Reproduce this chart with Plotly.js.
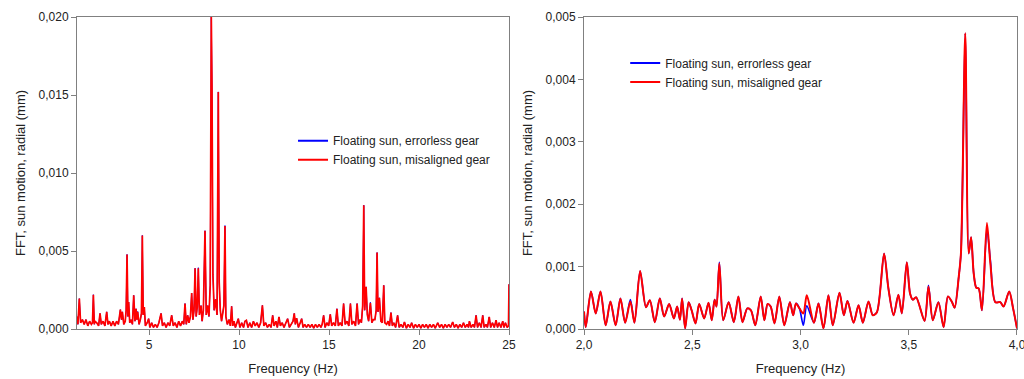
<!DOCTYPE html>
<html><head><meta charset="utf-8">
<script src="https://cdn.plot.ly/plotly-3.0.1.min.js"></script>
<style>html,body{margin:0;padding:0;background:#fff}#chart{width:1024px;height:379px}</style>
</head><body><div id="chart"></div>
<script>
const seriesNames = ['Floating sun, errorless gear', 'Floating sun, misaligned gear'];

const leftFreq = [
1.0,1.05,1.13,1.2,1.3,1.4,1.5,1.6,1.7,1.8,1.86,1.91,1.96,
2.0,2.1,2.2,2.28,2.35,2.45,2.55,2.65,2.72,2.8,2.9,
3.0,3.1,3.2,3.3,3.41,3.47,3.52,3.6,3.68,3.73,3.78,3.83,3.87,3.93,
4.0,4.08,4.15,4.22,4.28,4.33,4.37,4.45,4.52,4.58,4.63,4.68,4.74,4.8,4.9,4.98,
5.05,5.15,5.25,5.35,5.45,5.55,5.67,5.75,5.85,5.95,
6.05,6.15,6.26,6.35,6.45,6.55,6.65,6.75,6.85,6.93,
7.0,7.07,7.15,7.22,7.3,7.37,7.44,7.5,7.56,7.62,7.68,7.74,7.8,7.89,7.95,
8.02,8.11,8.18,8.26,8.33,8.4,8.46,8.5,8.55,8.62,8.7,8.78,8.85,8.9,8.96,
9.03,9.1,9.16,9.22,9.27,9.35,9.45,9.52,9.59,9.65,9.72,9.8,9.88,9.96,
10.05,10.15,10.25,10.33,10.41,10.5,10.6,10.7,10.8,10.9,
11.0,11.1,11.2,11.3,11.38,11.48,11.58,11.68,11.78,11.87,11.95,
12.05,12.13,12.22,12.3,12.4,12.5,12.6,12.7,12.8,12.9,
13.0,13.07,13.13,13.2,13.3,13.4,13.48,13.56,13.65,13.75,13.85,13.95,
14.05,14.15,14.25,14.35,14.45,14.55,14.62,14.7,14.78,14.88,14.98,
15.07,15.15,15.25,15.35,15.44,15.52,15.62,15.72,15.81,15.9,
16.0,16.1,16.19,16.27,16.37,16.47,16.56,16.64,16.72,16.8,16.87,16.93,16.98,
17.06,17.13,17.2,17.3,17.38,17.46,17.55,17.62,17.67,17.72,17.8,17.88,17.96,
18.04,18.1,18.2,18.28,18.36,18.44,18.52,18.6,18.7,18.81,18.9,
19.0,19.1,19.19,19.3,19.4,19.5,19.59,19.7,19.8,19.9,
20.0,20.1,20.2,20.3,20.4,20.5,20.6,20.7,20.8,20.9,
21.04,21.15,21.25,21.35,21.45,21.55,21.65,21.75,21.87,21.97,
22.07,22.17,22.27,22.37,22.47,22.57,22.67,22.75,22.8,22.9,
23.0,23.08,23.17,23.25,23.35,23.45,23.54,23.62,23.72,23.8,23.9,23.98,
24.08,24.18,24.28,24.36,24.45,24.55,24.65,24.72,24.8,24.9,24.97,25.0
];

const leftMisaligned = [
0.0008,0.0003,0.00195,0.0004,0.0006,0.0003,0.0006,0.0002,0.0005,0.0003,0.0004,0.0022,0.0003,
0.0005,0.0004,0.0002,0.001,0.0003,0.0005,0.0002,0.0011,0.0003,0.0005,0.0002,
0.0005,0.0002,0.0005,0.0003,0.00124,0.0006,0.0011,0.0003,0.0005,0.0012,0.00478,0.0008,0.00173,0.0004,
0.0006,0.0003,0.00216,0.0005,0.0013,0.0006,0.0011,0.0003,0.0006,0.001,0.006,0.0009,0.0014,0.0002,0.0004,0.00066,
0.0001,0.0004,0.0001,0.0003,0.0001,0.0004,0.001,0.0002,0.0004,0.0001,
0.0004,0.0002,0.00088,0.0002,0.0004,0.0001,0.0005,0.0002,0.0005,0.0003,
0.00163,0.0003,0.00088,0.0004,0.0008,0.0023,0.0006,0.0012,0.0039,0.0008,0.0014,0.0039,0.0009,0.0015,0.0005,
0.0012,0.0063,0.0009,0.0015,0.0008,0.0028,0.0201,0.0155,0.0035,0.0012,0.0019,0.0009,0.0152,0.003,0.0012,
0.0005,0.001,0.0015,0.0066,0.0008,0.0003,0.0006,0.0002,0.00146,0.0002,0.0005,0.0001,0.0004,0.00066,
0.0001,0.0004,0.0001,0.0005,0.00056,0.0001,0.0004,0.0001,0.0005,0.0002,
0.0004,0.0001,0.0004,0.00152,0.0002,0.0004,0.0001,0.0003,0.0001,0.00088,0.0002,
0.0005,0.0001,0.00077,0.0002,0.0004,0.0001,0.0004,0.00066,0.0001,0.0003,
0.0005,0.001,0.0003,0.0007,0.0001,0.0004,0.00066,0.0001,0.0003,0.0001,0.0003,0.0001,
0.0003,0.00005,0.0003,0.0001,0.0003,0.0001,0.0003,0.00088,0.0001,0.0004,0.0002,
0.00094,0.0002,0.0004,0.0002,0.0013,0.0002,0.0004,0.0002,0.00163,0.0003,
0.0005,0.0002,0.00163,0.0003,0.0005,0.0002,0.00163,0.0003,0.0006,0.0004,0.0015,0.00794,0.0012,
0.0027,0.0009,0.0005,0.00167,0.0004,0.0006,0.0006,0.0012,0.0049,0.0011,0.002,0.0005,0.0004,
0.0028,0.0004,0.0003,0.0005,0.0002,0.00105,0.0002,0.0004,0.0001,0.00088,0.0001,
0.0003,0.0001,0.00045,0.00005,0.0003,0.0001,0.0004,0.00005,0.0003,0.0001,
0.0003,0.00005,0.0003,0.0001,0.0003,0.00005,0.0003,0.0001,0.0003,0.00005,
0.0004,0.0001,0.0003,0.00005,0.0003,0.0001,0.0003,0.0001,0.00045,0.0001,
0.0003,0.00005,0.0003,0.0001,0.0004,0.0001,0.0003,0.0001,0.0005,0.0001,
0.0003,0.0001,0.00088,0.0001,0.0004,0.0001,0.00088,0.0001,0.0003,0.0001,0.00077,0.0001,
0.0004,0.0001,0.00056,0.0001,0.0004,0.0001,0.0005,0.0001,0.0004,0.0001,0.0002,0.00287
];

const leftErrorless = [
0.0008,0.0003,0.00195,0.0004,0.0006,0.0003,0.0006,0.0002,0.0005,0.0003,0.0004,0.0022,0.0003,
0.0005,0.0004,0.0002,0.001,0.0003,0.0005,0.0002,0.0011,0.0003,0.0005,0.0002,
0.0005,0.0002,0.0005,0.0003,0.00124,0.0006,0.0011,0.0003,0.0005,0.0012,0.00478,0.0008,0.00173,0.0004,
0.0006,0.0003,0.00216,0.0005,0.0013,0.0006,0.00112,0.0003,0.0006,0.001,0.006,0.0009,0.0014,0.0002,0.0004,0.00066,
0.0001,0.0004,0.0001,0.0003,0.0001,0.0004,0.001,0.0002,0.0004,0.0001,
0.0004,0.0002,0.00088,0.0002,0.0004,0.0001,0.0005,0.0002,0.0005,0.0003,
0.00163,0.0003,0.00088,0.0004,0.0008,0.0023,0.0006,0.0012,0.0039,0.0008,0.0014,0.00393,0.0009,0.0015,0.0005,
0.0012,0.0063,0.0009,0.0015,0.0008,0.0028,0.0201,0.0155,0.0035,0.0012,0.0019,0.0009,0.0152,0.003,0.0012,
0.0005,0.001,0.0015,0.00663,0.0008,0.0003,0.0006,0.0002,0.00146,0.0002,0.0005,0.0001,0.0004,0.00066,
0.0001,0.0004,0.0001,0.0005,0.00056,0.0001,0.0004,0.0001,0.0005,0.0002,
0.0004,0.0001,0.0004,0.00152,0.0002,0.0004,0.0001,0.0003,0.0001,0.00088,0.0002,
0.0005,0.0001,0.00077,0.0002,0.0004,0.0001,0.0004,0.00066,0.0001,0.0003,
0.0005,0.001,0.0003,0.0007,0.0001,0.0004,0.00066,0.0001,0.0003,0.0001,0.0003,0.0001,
0.0003,0.00005,0.0003,0.0001,0.0003,0.0001,0.0003,0.00088,0.0001,0.0004,0.0002,
0.00094,0.0002,0.0004,0.0002,0.0013,0.0002,0.0004,0.0002,0.00163,0.0003,
0.0005,0.0002,0.00163,0.0003,0.0005,0.0002,0.00163,0.0003,0.0006,0.0004,0.0015,0.00794,0.0012,
0.0027,0.0009,0.0005,0.00171,0.0004,0.0006,0.0006,0.0012,0.0049,0.0011,0.002,0.0005,0.0004,
0.0028,0.0004,0.0003,0.0005,0.0002,0.00105,0.0002,0.0004,0.0001,0.00088,0.0001,
0.0003,0.0001,0.00045,0.00005,0.0003,0.0001,0.0004,0.00005,0.0003,0.0001,
0.0003,0.00005,0.0003,0.0001,0.0003,0.00005,0.0003,0.0001,0.0003,0.00005,
0.0004,0.0001,0.0003,0.00005,0.0003,0.0001,0.0003,0.0001,0.00045,0.0001,
0.0003,0.00005,0.0003,0.0001,0.0004,0.0001,0.0003,0.0001,0.0005,0.0001,
0.0003,0.0001,0.00088,0.0001,0.0004,0.0001,0.00088,0.0001,0.0003,0.0001,0.00077,0.0001,
0.0004,0.0001,0.00056,0.0001,0.0004,0.0001,0.0005,0.0001,0.0004,0.0001,0.0002,0.00287
];

const rightFreq = [
2.0,2.008,2.032,2.054,2.076,2.1,2.122,2.146,2.168,2.19,2.214,2.233,2.259,2.286,2.304,2.327,2.35,2.37,2.393,2.415,
2.43,2.443,2.453,2.467,2.483,2.497,2.515,2.532,2.555,2.575,2.59,2.603,2.612,2.625,2.643,2.668,2.692,2.713,2.732,2.754,
2.771,2.791,2.816,2.833,2.848,2.862,2.88,2.902,2.925,2.951,2.966,2.979,2.995,3.013,3.029,3.062,3.083,3.106,3.129,3.149,
3.18,3.2,3.217,3.245,3.268,3.288,3.314,3.334,3.353,3.386,3.406,3.43,3.452,3.468,3.491,3.506,3.519,3.534,3.573,3.591,
3.611,3.637,3.661,3.681,3.7,3.712,3.731,3.741,3.761,3.777,3.788,3.8,3.812,3.823,3.838,3.861,3.877,3.9,3.923,3.938,
3.964,3.982,4.0
];

const rightMisaligned = [
0.00028,0.00003,0.0006,0.00025,0.0006,0.00006,0.00044,0.00006,0.00049,0.0001,0.00044,0.0001,0.00093,0.00035,0.00046,0.00011,0.00049,0.0002,0.0004,0.00017,
0.00036,0.00015,0.00049,0.00001,0.00043,0.0003,0.00009,0.0004,0.00017,0.00042,0.00014,0.00047,0.00036,0.00105,0.00014,0.00043,0.00011,0.00052,0.00011,0.00033,
0.0003,0.00006,0.00052,0.00014,0.0004,0.00036,0.00009,0.00052,0.00006,0.00043,0.00022,0.00041,0.00033,0.00025,0.00054,0.0001,0.00041,0.00001,0.00054,0.00006,
0.00058,0.00022,0.00045,0.0001,0.00038,0.0001,0.00044,0.00022,0.00027,0.00121,0.00065,0.00022,0.00055,0.00025,0.00107,0.00057,0.00047,0.00051,0.00013,0.00068,
0.00014,0.00043,0.00003,0.00052,0.00043,0.00034,0.00084,0.00121,0.00474,0.00121,0.00147,0.00089,0.00066,0.00065,0.0003,0.0017,0.00105,0.00043,0.00043,0.00036,
0.0006,0.00033,0.00001
];

const rightErrorless = [
0.00028,0.00003,0.0006,0.00025,0.0006,0.00006,0.00044,0.00006,0.00049,0.0001,0.00047,0.0001,0.00093,0.00035,0.00046,0.00011,0.00049,0.0002,0.0004,0.00017,
0.00036,0.00015,0.00049,0.00001,0.00043,0.0003,0.00009,0.0004,0.00017,0.00042,0.00014,0.00047,0.00036,0.00107,0.00014,0.00043,0.00011,0.00052,0.00011,0.00033,
0.0003,0.00006,0.00052,0.00014,0.0004,0.00036,0.00009,0.00052,0.00006,0.00043,0.00022,0.00041,0.00033,0.00006,0.00037,0.0001,0.00041,0.00001,0.00054,0.00006,
0.00058,0.00022,0.00045,0.0001,0.00038,0.0001,0.00044,0.00022,0.00027,0.00121,0.00065,0.00022,0.00055,0.00025,0.00107,0.00057,0.00047,0.00051,0.00013,0.0007,
0.00014,0.00043,0.00003,0.00052,0.00043,0.00034,0.00084,0.00121,0.00474,0.00121,0.00147,0.00089,0.00066,0.00065,0.0003,0.0016,0.0011,0.00043,0.00043,0.00036,
0.0006,0.00033,0.00001
];

const FONT = 'Liberation Sans, Arial, sans-serif';
const BLUE = '#0000ff', RED = '#ff0000';

const traces = [
  {x: leftFreq, y: leftErrorless, name: seriesNames[0], type: 'scatter', mode: 'lines', xaxis: 'x', yaxis: 'y', line: {color: BLUE, width: 1.0}, showlegend: false},
  {x: leftFreq, y: leftMisaligned, name: seriesNames[1], type: 'scatter', mode: 'lines', xaxis: 'x', yaxis: 'y', line: {color: RED, width: 1.7}, showlegend: false},
  {x: rightFreq, y: rightErrorless, name: seriesNames[0], type: 'scatter', mode: 'lines', xaxis: 'x2', yaxis: 'y2', line: {color: BLUE, width: 1.6, shape: 'spline', smoothing: 0.8}, showlegend: false},
  {x: rightFreq, y: rightMisaligned, name: seriesNames[1], type: 'scatter', mode: 'lines', xaxis: 'x2', yaxis: 'y2', line: {color: RED, width: 2, shape: 'spline', smoothing: 0.8}, showlegend: false},
  // legend entries (no data points)
  {x: [null], y: [null], name: seriesNames[0], type: 'scatter', mode: 'lines', xaxis: 'x', yaxis: 'y', line: {color: BLUE, width: 2}, legend: 'legend'},
  {x: [null], y: [null], name: seriesNames[1], type: 'scatter', mode: 'lines', xaxis: 'x', yaxis: 'y', line: {color: RED, width: 2}, legend: 'legend'},
  {x: [null], y: [null], name: seriesNames[0], type: 'scatter', mode: 'lines', xaxis: 'x2', yaxis: 'y2', line: {color: BLUE, width: 2}, legend: 'legend2'},
  {x: [null], y: [null], name: seriesNames[1], type: 'scatter', mode: 'lines', xaxis: 'x2', yaxis: 'y2', line: {color: RED, width: 2}, legend: 'legend2'}
];

const axCommon = {
  showline: true, mirror: true, linecolor: '#808080', linewidth: 1,
  ticks: 'outside', ticklen: 5, tickcolor: '#808080', tickwidth: 1,
  showgrid: false, zeroline: false, ticklabeloverflow: 'allow',
  tickfont: {family: FONT, size: 12, color: '#222'}
};
const titleFont = {family: FONT, size: 13, color: '#222'};

const layout = {
  width: 1024, height: 379,
  margin: {l: 77, r: 7, t: 17, b: 50},
  paper_bgcolor: '#fff', plot_bgcolor: '#fff',
  separators: ',.',
  font: {family: FONT, size: 12, color: '#222'},
  xaxis: Object.assign({}, axCommon, {domain: [0, 0.4596], range: [1, 25], tickvals: [5, 10, 15, 20, 25], anchor: 'y',
    title: {text: 'Frequency (Hz)', font: titleFont, standoff: 12}}),
  yaxis: Object.assign({}, axCommon, {range: [0, 0.02], dtick: 0.005, tick0: 0, tickformat: '.3f', anchor: 'x',
    title: {text: 'FFT, sun motion, radial (mm)', font: titleFont, standoff: 10}}),
  xaxis2: Object.assign({}, axCommon, {domain: [0.5394, 1], range: [2, 4], dtick: 0.5, tick0: 2, tickformat: '.1f', anchor: 'y2',
    title: {text: 'Frequency (Hz)', font: titleFont, standoff: 12}}),
  yaxis2: Object.assign({}, axCommon, {range: [0, 0.005], dtick: 0.001, tick0: 0, tickformat: '.3f', anchor: 'x2',
    title: {text: 'FFT, sun motion, radial (mm)', font: titleFont, standoff: 10}}),
  legend: {x: 0.2298, y: 0.650, xanchor: 'left', yanchor: 'top', bgcolor: 'rgba(0,0,0,0)', font: {family: FONT, size: 12, color: '#222'}},
  legend2: {x: 0.5832, y: 0.899, xanchor: 'left', yanchor: 'top', bgcolor: 'rgba(0,0,0,0)', font: {family: FONT, size: 12, color: '#222'}},
  showlegend: true
};

Plotly.newPlot('chart', traces, layout, {displayModeBar: false, staticPlot: true});
</script>
</body></html>
